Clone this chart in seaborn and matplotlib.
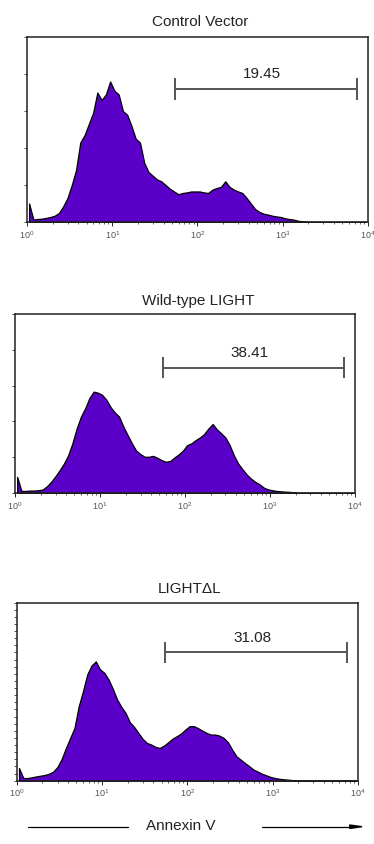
import numpy as np
import matplotlib.pyplot as plt
import seaborn as sns

titles = ["Control Vector", "Wild-type LIGHT", "LIGHT\u0394L"]
gate_labels = ["19.45", "38.41", "31.08"]
gate_lo, gate_hi = 55, 7400
gate_y = [72, 70, 72]

# channel centres in decades (0.05 decade per channel), counts as % of axis height
channel_log = np.arange(0.025, 4.0, 0.05)

control_counts = [
    10, 1.3, 1.6, 1.8, 2.2, 2.7, 3.4, 4.9, 8.5, 13,
    20, 28, 43, 47, 53, 59, 70, 66, 69, 76,
    71, 69, 60, 58, 52, 45, 43, 32, 27, 25,
    23, 22, 20, 18, 16.5, 15, 15.7, 16, 16.5, 16.5,
    16.5, 16, 15.7, 17.5, 18.4, 19, 22, 19, 17.5, 16.5,
    15.7, 13, 10, 7, 5.4, 4.5, 4, 3.4, 3, 2.7,
    2, 1.6, 1.3, 0.7, 0.4, 0.2,
]
wildtype_counts = [
    9, 1.1, 1.1, 1.3, 1.3, 1.5, 1.9, 3.7, 6.2, 9.3,
    12.7, 16.4, 21, 27.7, 36, 42.6, 47.3, 53, 56.6, 56,
    54.8, 52, 47.9, 44.9, 42.6, 37, 32.3, 27.7, 23.6, 21.7,
    20.2, 20.2, 20.7, 19.6, 18.3, 17.4, 17.8, 19.8, 21.5, 23.6,
    26.7, 27.7, 29.5, 31, 32.9, 36, 38.5, 35.5, 33.3, 31,
    26.7, 21, 16.4, 13.3, 10.3, 8, 6.2, 4.9, 3, 2,
    1.5, 1.1, 0.9, 0.7, 0.6, 0.4,
]
delta_counts = [
    7.1, 1.5, 1.5, 1.9, 2.4, 2.8, 3.2, 3.9, 5.1, 7.7,
    12.2, 18.4, 24, 29.6, 41.8, 50.3, 59.7, 64.7, 67, 62.5,
    60.6, 56.8, 51.6, 45.6, 41.5, 38, 32.8, 30.2, 26.8, 23.5,
    21.2, 20.3, 19, 18.4, 19.7, 21.6, 23.6, 25, 26.5, 28.7,
    30.6, 30.6, 29.5, 28.1, 26.8, 25.9, 25.9, 25.3, 24, 21.6,
    17.4, 13.7, 11.8, 9.9, 8.1, 6.2, 5.1, 3.9, 3, 2.1,
    1.5, 1.1, 0.8, 0.6, 0.4,
]
all_counts = [control_counts, wildtype_counts, delta_counts]

sns.set_style("white")
plt.rcParams["font.family"] = ["Liberation Sans", "DejaVu Sans"]

fig = plt.figure(figsize=(3.74, 8.44), dpi=100)
# [left, bottom, width, height] for each panel
boxes = [
    [0.072, 0.737, 0.912, 0.219],
    [0.040, 0.416, 0.909, 0.212],
    [0.045, 0.075, 0.912, 0.211],
]
title_x = [0.507, 0.54, 0.507]
title_pad = [8, 6.5, 7]
ytick_sets = [np.arange(0, 101, 20), np.arange(0, 101, 20), np.arange(0, 101, 4)]

for i, counts in enumerate(all_counts):
    ax = fig.add_axes(boxes[i])
    x = 10 ** channel_log[:len(counts)]
    sns.histplot(x=x, weights=counts, log_scale=True, binwidth=0.05, binrange=(0, 4),
                 element="poly", fill=True, color="#5a00c8", alpha=1,
                 edgecolor="black", linewidth=0.9, ax=ax)
    ax.set_xlim(1, 10 ** 4)
    ax.set_ylim(0, 100)
    ax.set_xlabel("")
    ax.set_ylabel("")
    ax.set_yticks(ytick_sets[i])
    ax.set_yticklabels([])
    ax.tick_params(axis="y", length=2, width=0.6, left=True, color="#333333")
    ax.tick_params(axis="x", which="major", length=3, width=0.7, bottom=True,
                   labelsize=6.5, labelcolor="#555555", pad=2)
    ax.tick_params(axis="x", which="minor", length=1.5, width=0.5, bottom=True)
    for sp in ax.spines.values():
        sp.set_color("#222222")
        sp.set_linewidth(1.1)
    ax.set_title(titles[i], fontsize=11, x=title_x[i], pad=title_pad[i], color="#222222")

    # gate marker
    gy = gate_y[i]
    ax.plot([gate_lo, gate_hi], [gy, gy], color="#555555", lw=1.4)
    ax.vlines([gate_lo, gate_hi], gy - 6, gy + 6, color="#555555", lw=1.4)
    ax.text(np.sqrt(gate_lo * gate_hi) * 0.9, gy + 4, gate_labels[i], fontsize=11,
            ha="center", va="bottom", color="#222222")

fig.text(0.482, 0.013, "Annexin V", fontsize=11, ha="center", va="bottom", color="#222222")
fig.add_artist(plt.Line2D([0.075, 0.342], [0.0205, 0.0205], color="black", lw=0.9,
                          transform=fig.transFigure))
fig.add_artist(plt.Line2D([0.70, 0.95], [0.0205, 0.0205], color="black", lw=0.9,
                          transform=fig.transFigure))
fig.add_artist(plt.Polygon([[0.968, 0.0205], [0.935, 0.0225], [0.935, 0.0185]],
                           closed=True, color="black", transform=fig.transFigure))

fig.savefig("out.png", dpi=100)
